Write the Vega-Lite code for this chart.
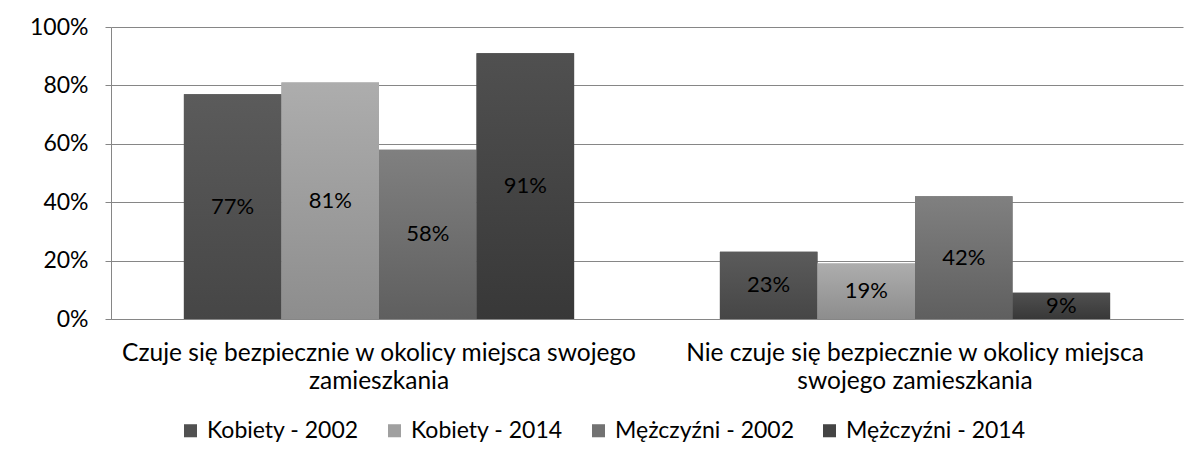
{
  "$schema": "https://vega.github.io/schema/vega-lite/v6.json",
  "autosize": {"type": "none"},
  "width": 1072,
  "height": 292,
  "padding": {"left": 111, "top": 27, "right": 14, "bottom": 142},
  "background": "white",
  "config": {
    "font": "Lato",
    "view": {"stroke": null},
    "axis": {"labelFont": "Lato", "labelColor": "#000000", "domainColor": "#868686", "tickColor": "#868686", "gridColor": "#868686"}
  },
  "data": {
    "values": [
      {"category": "Czuje się bezpiecznie w okolicy miejsca swojego zamieszkania", "series": "Kobiety - 2002", "value": 0.77},
      {"category": "Czuje się bezpiecznie w okolicy miejsca swojego zamieszkania", "series": "Kobiety - 2014", "value": 0.81},
      {"category": "Czuje się bezpiecznie w okolicy miejsca swojego zamieszkania", "series": "Mężczyźni - 2002", "value": 0.58},
      {"category": "Czuje się bezpiecznie w okolicy miejsca swojego zamieszkania", "series": "Mężczyźni - 2014", "value": 0.91},
      {"category": "Nie czuje się bezpiecznie w okolicy miejsca swojego zamieszkania", "series": "Kobiety - 2002", "value": 0.23},
      {"category": "Nie czuje się bezpiecznie w okolicy miejsca swojego zamieszkania", "series": "Kobiety - 2014", "value": 0.19},
      {"category": "Nie czuje się bezpiecznie w okolicy miejsca swojego zamieszkania", "series": "Mężczyźni - 2002", "value": 0.42},
      {"category": "Nie czuje się bezpiecznie w okolicy miejsca swojego zamieszkania", "series": "Mężczyźni - 2014", "value": 0.09}
    ]
  },
  "encoding": {
    "x": {
      "field": "category", "type": "nominal", "sort": null,
      "scale": {"paddingInner": 0.272, "paddingOuter": 0.136},
      "axis": {
        "title": null, "labelAngle": 0, "ticks": false, "labelFontSize": 24.5, "labelPadding": 22,
        "labelLineHeight": 28, "labelLimit": 700,
        "labelExpr": "indexof(datum.label, 'Nie') == 0 ? ['Nie czuje się bezpiecznie w okolicy miejsca', 'swojego zamieszkania'] : ['Czuje się bezpiecznie w okolicy miejsca swojego', 'zamieszkania']"
      }
    },
    "xOffset": {"field": "series", "type": "nominal", "sort": null, "scale": {"domain": ["Kobiety - 2002", "Kobiety - 2014", "Mężczyźni - 2002", "Mężczyźni - 2014"], "paddingInner": 0, "paddingOuter": 0}},
    "y": {
      "field": "value", "type": "quantitative",
      "scale": {"domain": [0, 1], "nice": false},
      "axis": {"title": null, "values": [0, 0.2, 0.4, 0.6, 0.8, 1], "format": ".0%", "labelFontSize": 23, "tickSize": 6, "labelPadding": 17, "grid": true}
    }
  },
  "layer": [
    {
      "mark": {"type": "bar"},
      "encoding": {
        "color": {
          "field": "series", "type": "nominal", "sort": null,
          "scale": {"domain": ["Kobiety - 2002", "Kobiety - 2014", "Mężczyźni - 2002", "Mężczyźni - 2014"], "range": ["#515151", "#a0a0a0", "#727272", "#444444"]},
          "legend": {
            "title": null, "orient": "none", "legendX": 68, "legendY": 392, "direction": "horizontal", "symbolType": "square", "symbolSize": 170,
            "symbolStrokeWidth": 0, "labelFontSize": 23, "labelFont": "Lato", "labelColor": "#000000", "labelLimit": 400, "columnPadding": 24, "labelOffset": 5
          }
        }
      }
    },
    {
      "transform": [{"filter": "datum.series == 'Kobiety - 2002'"}],
      "mark": {"type": "bar", "fill": {"gradient": "linear", "x1": 0, "y1": 0, "x2": 0, "y2": 1, "stops": [{"offset": 0, "color": "#5b5b5b"}, {"offset": 1, "color": "#464646"}]}}
    },
    {
      "transform": [{"filter": "datum.series == 'Kobiety - 2014'"}],
      "mark": {"type": "bar", "fill": {"gradient": "linear", "x1": 0, "y1": 0, "x2": 0, "y2": 1, "stops": [{"offset": 0, "color": "#adadad"}, {"offset": 1, "color": "#8d8d8d"}]}}
    },
    {
      "transform": [{"filter": "datum.series == 'Mężczyźni - 2002'"}],
      "mark": {"type": "bar", "fill": {"gradient": "linear", "x1": 0, "y1": 0, "x2": 0, "y2": 1, "stops": [{"offset": 0, "color": "#808080"}, {"offset": 1, "color": "#5f5f5f"}]}}
    },
    {
      "transform": [{"filter": "datum.series == 'Mężczyźni - 2014'"}],
      "mark": {"type": "bar", "fill": {"gradient": "linear", "x1": 0, "y1": 0, "x2": 0, "y2": 1, "stops": [{"offset": 0, "color": "#505050"}, {"offset": 1, "color": "#383838"}]}}
    },
    {
      "transform": [{"calculate": "datum.value / 2", "as": "mid"}],
      "mark": {"type": "text", "fontSize": 22, "color": "#000000", "baseline": "middle"},
      "encoding": {
        "y": {"field": "mid", "type": "quantitative"},
        "text": {"field": "value", "type": "quantitative", "format": ".0%"}
      }
    }
  ]
}
